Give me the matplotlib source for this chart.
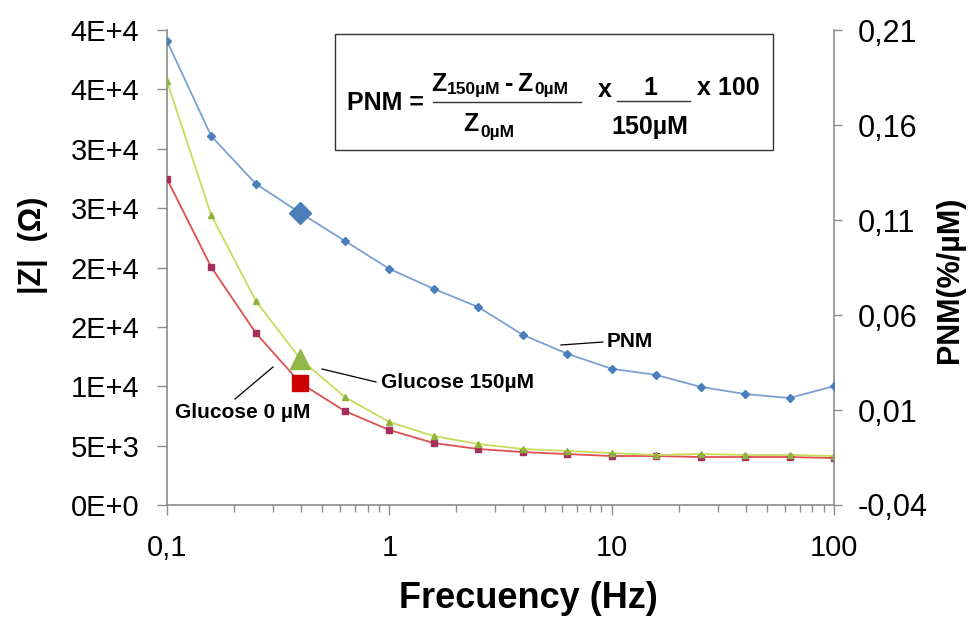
import matplotlib.pyplot as plt

# data
freq = [0.1, 0.158, 0.251, 0.398, 0.631, 1.0, 1.58, 2.51, 3.98, 6.31,
        10, 15.8, 25.1, 39.8, 63.1, 100]
z_150 = [35700, 24420, 17180, 12290, 9090, 6990, 5810, 5140, 4715, 4550,
         4380, 4210, 4290, 4210, 4210, 4125]
z_0 = [27450, 20040, 14480, 10270, 7910, 6315, 5220, 4715, 4460, 4290,
       4125, 4125, 4040, 4040, 4040, 3960]
pnm = [0.2042, 0.1542, 0.1290, 0.1137, 0.0990, 0.0843, 0.0738, 0.0642,
       0.0496, 0.0396, 0.0317, 0.0285, 0.0222, 0.0184, 0.0163, 0.0226]
hl = 3  # highlighted point (0.398 Hz)

left_ticks = [0, 5000, 10000, 15000, 20000, 25000, 30000, 35000, 40000]
left_labels = ['0E+0', '5E+3', '1E+4', '2E+4', '2E+4', '3E+4', '3E+4', '4E+4', '4E+4']
right_ticks = [-0.04, 0.01, 0.06, 0.11, 0.16, 0.21]
right_labels = ['-0,04', '0,01', '0,06', '0,11', '0,16', '0,21']
x_ticks = [0.1, 1, 10, 100]
x_labels = ['0,1', '1', '10', '100']

plt.rcParams['font.family'] = ['Liberation Sans', 'DejaVu Sans']
gray = '#8c8c8c'
W, H = 969, 617

fig = plt.figure(figsize=(W / 100, H / 100), dpi=100)
ax = fig.add_axes([167 / W, 1 - 505 / H, 667 / W, 475 / H])
ax2 = ax.twinx()

# impedance curves (left axis)
ax.plot(freq, z_0, color='#e05050', lw=1.3, marker='s', ms=4.5,
        mfc='#a3305c', mec='#a3305c', zorder=3)
ax.plot(freq, z_150, color='#c8dc5a', lw=1.3, marker='^', ms=5,
        mfc='#8db33a', mec='#8db33a', zorder=3)
ax.plot(freq[hl], z_0[hl], marker='s', ms=11, color='#cc0000', zorder=4)
ax.plot(freq[hl], z_150[hl], marker='^', ms=14, color='#92b648', zorder=4)

# PNM curve (right axis)
ax2.plot(freq, pnm, color='#7ba0d4', lw=1.3, marker='D', ms=4.5,
         mfc='#4a7ebb', mec='#4a7ebb', zorder=3)
ax2.plot(freq[hl], pnm[hl], marker='D', ms=11, color='#4a7ebb', zorder=4)

ax.set_xscale('log')
ax.set_xlim(0.1, 100)
ax.set_ylim(0, 40000)
ax2.set_ylim(-0.04, 0.21)
ax.set_xticks(x_ticks)
ax.set_xticklabels(x_labels)
ax.set_yticks(left_ticks)
ax.set_yticklabels(left_labels)
ax2.set_yticks(right_ticks)
ax2.set_yticklabels(right_labels)

for a in (ax, ax2):
    a.spines['top'].set_visible(False)
    for s in ('left', 'right', 'bottom'):
        a.spines[s].set_color(gray)
        a.spines[s].set_linewidth(1.2)
ax.spines['right'].set_visible(False)
ax2.spines['left'].set_visible(False)
ax2.spines['bottom'].set_visible(False)

ax.tick_params(axis='y', length=7, width=1, color=gray, labelsize=21, pad=13)
ax.tick_params(axis='x', which='major', length=7, width=1, color=gray,
               labelsize=21, pad=14)
ax.tick_params(axis='x', which='minor', length=5, width=1, color=gray,
               labelbottom=False)
ax2.tick_params(axis='y', length=6, width=1, color=gray, labelsize=22, pad=11)

# axis titles
fig.text(528 / W, 1 - 598 / H, 'Frecuency (Hz)', fontsize=26,
         fontweight='bold', ha='center', va='center')
fig.text(33 / W, 1 - 245 / H, '|Z|  (Ω)', fontsize=22, fontweight='bold',
         rotation=90, ha='center', va='center')
fig.text(950 / W, 1 - 280 / H, 'PNM(%/µM)', fontsize=22, fontweight='bold',
         rotation=90, ha='center', va='center')


def fline(x0, y0, x1, y1, color='black', lw=0.9):
    fig.add_artist(plt.Line2D([x0 / W, x1 / W], [1 - y0 / H, 1 - y1 / H],
                              transform=fig.transFigure, color=color, lw=lw))


def ftext(x, y, s, size, ha='left', va='baseline'):
    fig.text(x / W, 1 - y / H, s, fontsize=size, fontweight='bold',
             ha=ha, va=va)


# series labels with leader lines
ftext(607, 342, 'PNM', 15, va='center')
fline(561, 345, 603, 342)
ftext(381, 383, 'Glucose 150µM', 15, va='center')
fline(322, 369, 376, 382)
ftext(175, 412, 'Glucose 0 µM', 15, va='center')
fline(235, 399, 273, 367)

# formula box
box = plt.Rectangle((335 / W, 1 - 150 / H), 438 / W, 116 / H,
                    transform=fig.transFigure, fill=False, ec='#333333', lw=1)
fig.add_artist(box)
ftext(347, 110, 'PNM =', 18)
ftext(431, 91, 'Z', 18)
ftext(447, 94, '150µM', 12.5)
ftext(505, 91, '-', 18)
ftext(517, 91, 'Z', 18)
ftext(534, 94, '0µM', 12.5)
ftext(463, 131, 'Z', 18)
ftext(480, 137, '0µM', 12.5)
ftext(598, 97, 'x', 18)
ftext(650, 95, '1', 18, ha='center')
ftext(650, 134, '150µM', 18, ha='center')
ftext(697, 95, 'x 100', 18)
fline(433, 102, 581, 102, color='#333333', lw=1)
fline(617, 101, 690, 101, color='#333333', lw=1)

fig.savefig('out.png', dpi=100)
